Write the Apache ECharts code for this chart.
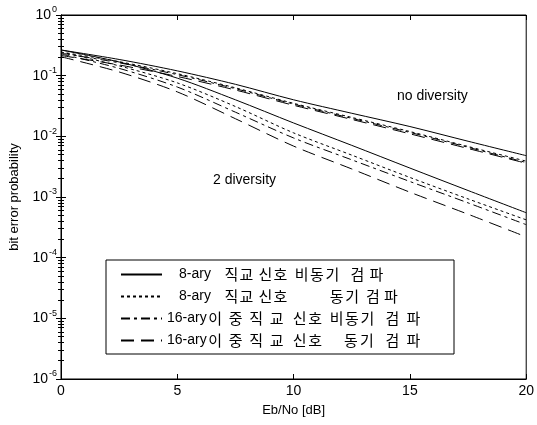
<!DOCTYPE html>
<html>
<head>
<meta charset="utf-8">
<script src="https://cdn.jsdelivr.net/npm/echarts@6/dist/echarts.min.js"></script>
<style>
html,body{margin:0;padding:0;background:#fff;}
#chart{width:537px;height:425px;}
</style>
</head>
<body>
<div id="chart"></div>
<script>
// Eb/No [dB]
const ebno = [0, 2.5, 5, 7.5, 10, 12.5, 15, 17.5, 20];
// no diversity
const noDiv8NonCoh  = [0.265, 0.185, 0.12, 0.072, 0.040, 0.024, 0.0145, 0.0083, 0.0048];
const noDiv8Coh     = [0.245, 0.17, 0.108, 0.063, 0.035, 0.0205, 0.012, 0.0068, 0.0039];
const noDiv16NonCoh = [0.235, 0.163, 0.104, 0.061, 0.034, 0.0198, 0.0116, 0.0066, 0.0037];
const noDiv16Coh    = [0.215, 0.15, 0.097, 0.058, 0.0325, 0.019, 0.011, 0.0063, 0.0036];
// 2 diversity
const div8NonCoh  = [0.265, 0.168, 0.091, 0.040, 0.0166, 0.0071, 0.003, 0.00128, 0.00055];
const div8Coh     = [0.245, 0.145, 0.076, 0.031, 0.0114, 0.0049, 0.0021, 0.00093, 0.00042];
const div16NonCoh = [0.228, 0.132, 0.065, 0.025, 0.0094, 0.0041, 0.0018, 0.0008, 0.00035];
const div16Coh    = [0.205, 0.115, 0.054, 0.0195, 0.0069, 0.0029, 0.0012, 0.00052, 0.00022];

const legendNames = [
  '8-ary 직교 신호 비동기 검파',
  '8-ary 직교 신호 동기 검파',
  '16-ary 이중직교 신호 비동기 검파',
  '16-ary 이중직교 신호 동기 검파'
];
const xTicks = [0, 5, 10, 15, 20];
const annotations = ['no diversity', '2 diversity'];

// ---- layout of legend words (style only: start/end pixel of each word) ----
const TEXT_X0 = 165;
const legendLayout = [
  [['8-ary', 177, 222], ['직교', 222, 252], ['신호', 256, 286], ['비동기', 292, 338], ['검파', 346, 384]],
  [['8-ary', 177, 222], ['직교', 222, 252], ['신호', 256, 286], ['동기', 327, 358], ['검파', 362, 398]],
  [['16-ary', 165, 203], ['이중직교', 203, 285], ['신호', 290, 321], ['비동기', 327, 373], ['검파', 380, 422]],
  [['16-ary', 165, 203], ['이중직교', 203, 285], ['신호', 290, 321], ['동기', 341, 373], ['검파', 380, 422]]
];

const FONT = '"Liberation Sans", Arial, "Noto Sans CJK KR", sans-serif';
const KFONT = '"Noto Sans CJK KR", sans-serif';

const legendRichStyles = {};
const legendStrings = {};
let styleId = 0;
legendLayout.forEach((row, r) => {
  let s = '';
  let cursor = TEXT_X0;
  row.forEach(([word, start, end]) => {
    if (start > cursor) {
      const key = 'g' + (styleId++);
      legendRichStyles[key] = { width: start - cursor, fontSize: 14, lineHeight: 14 };
      s += '{' + key + '| }';
      cursor = start;
    }
    const isLatin = /^[0-9a-zA-Z\-]+$/.test(word);
    if (isLatin) {
      const key = 'l' + (styleId++);
      legendRichStyles[key] = { width: end - start, fontSize: 14, lineHeight: 14, fontFamily: FONT, align: 'left', color: '#000' };
      s += '{' + key + '|' + word + '}';
    } else {
      const chars = Array.from(word);
      const pitch = (end - start) / chars.length;
      chars.forEach((c) => {
        const key = 'k' + (styleId++);
        legendRichStyles[key] = { width: pitch, fontSize: 15, lineHeight: 14, fontFamily: KFONT, align: 'center', color: '#000' };
        s += '{' + key + '|' + c + '}';
      });
    }
    cursor = end;
  });
  legendStrings[legendNames[r]] = s;
});

const dashes = ['solid', [3, 3], [9, 4, 3, 4], [13, 7]];

function pairs(ys) { return ebno.map((x, i) => [x, ys[i]]); }

const groups = [
  [noDiv8NonCoh, div8NonCoh],
  [noDiv8Coh, div8Coh],
  [noDiv16NonCoh, div16NonCoh],
  [noDiv16Coh, div16Coh]
];

const series = [];
groups.forEach((g, k) => {
  g.forEach((ys) => {
    series.push({
      name: legendNames[k],
      type: 'line',
      data: pairs(ys),
      smooth: 0.3,
      symbol: 'none',
      showSymbol: false,
      silent: true,
      lineStyle: { color: '#000', width: 1, type: dashes[k] },
      itemStyle: { color: '#000' },
      xAxisIndex: 0, yAxisIndex: 0
    });
  });
});

const chart = echarts.init(document.getElementById('chart'), null, { renderer: 'canvas' });

const supExp = (v) => {
  const e = Math.round(Math.log10(v));
  return '{b|10}{s|' + e + '}';
};

chart.setOption({
  animation: false,
  backgroundColor: '#fff',
  textStyle: { fontFamily: FONT, color: '#000' },
  grid: { left: 59, right: 6, top: 15, bottom: 46, show: true, borderColor: '#000', borderWidth: 1, backgroundColor: 'transparent' },
  legend: {
    data: legendNames,
    orient: 'vertical',
    left: 106,
    top: 260,
    padding: [7, 30, 6, 14],
    itemGap: 7,
    itemWidth: 41,
    itemHeight: 14,
    borderColor: '#000',
    borderWidth: 1,
    backgroundColor: '#fff',
    selectedMode: false,
    itemStyle: { opacity: 0 },
    formatter: (name) => legendStrings[name],
    textStyle: {
      fontFamily: FONT,
      fontSize: 14,
      color: '#000',
      rich: legendRichStyles
    }
  },
  xAxis: [{
    type: 'value',
    min: 0, max: 20, interval: 5,
    name: 'Eb/No [dB]',
    nameLocation: 'middle',
    nameGap: 25,
    nameTextStyle: { fontSize: 13, color: '#000', fontFamily: FONT },
    axisLine: { show: true, lineStyle: { color: '#000', width: 1 } },
    axisTick: { show: true, inside: true, length: 5, lineStyle: { color: '#000' } },
    axisLabel: { fontSize: 14, color: '#000', margin: 5, fontFamily: FONT,
      formatter: (v) => xTicks.includes(v) ? String(v) : '' },
    splitLine: { show: false }
  }, {
    type: 'value',
    position: 'top',
    min: 0, max: 20, interval: 5,
    axisLine: { show: true, lineStyle: { color: '#000', width: 1 } },
    axisTick: { show: true, inside: true, length: 5, lineStyle: { color: '#000' } },
    axisLabel: { show: false },
    splitLine: { show: false }
  }],
  yAxis: [{
    type: 'log',
    logBase: 10,
    min: 1e-6, max: 1,
    name: 'bit error probability',
    nameLocation: 'middle',
    nameGap: 40,
    nameTextStyle: { fontSize: 13, color: '#000', fontFamily: FONT },
    axisLine: { show: true, lineStyle: { color: '#000', width: 1 } },
    axisTick: { show: true, inside: true, length: 5, lineStyle: { color: '#000' } },
    minorTick: { show: true, splitNumber: 9, length: 3, lineStyle: { color: '#000' } },
    axisLabel: {
      color: '#000', margin: 4, fontFamily: FONT,
      formatter: supExp,
      rich: {
        b: { fontSize: 14, fontFamily: FONT, color: '#000' },
        s: { fontSize: 9, fontFamily: FONT, color: '#000', padding: [0, 0, 10, 1] }
      }
    },
    splitLine: { show: false },
    minorSplitLine: { show: false }
  }, {
    type: 'log',
    logBase: 10,
    min: 1e-6, max: 1,
    position: 'right',
    axisLine: { show: true, lineStyle: { color: '#000', width: 1 } },
    axisTick: { show: true, inside: true, length: 5, lineStyle: { color: '#000' } },
    minorTick: { show: true, splitNumber: 9, length: 3, lineStyle: { color: '#000' } },
    axisLabel: { show: false },
    splitLine: { show: false }
  }],
  graphic: [
    { type: 'text', left: 397, top: 89, style: { text: annotations[0], fontSize: 14, fontFamily: FONT, fill: '#000' } },
    { type: 'text', left: 213, top: 173, style: { text: annotations[1], fontSize: 14, fontFamily: FONT, fill: '#000' } }
  ],
  series: series
});
</script>
</body>
</html>
